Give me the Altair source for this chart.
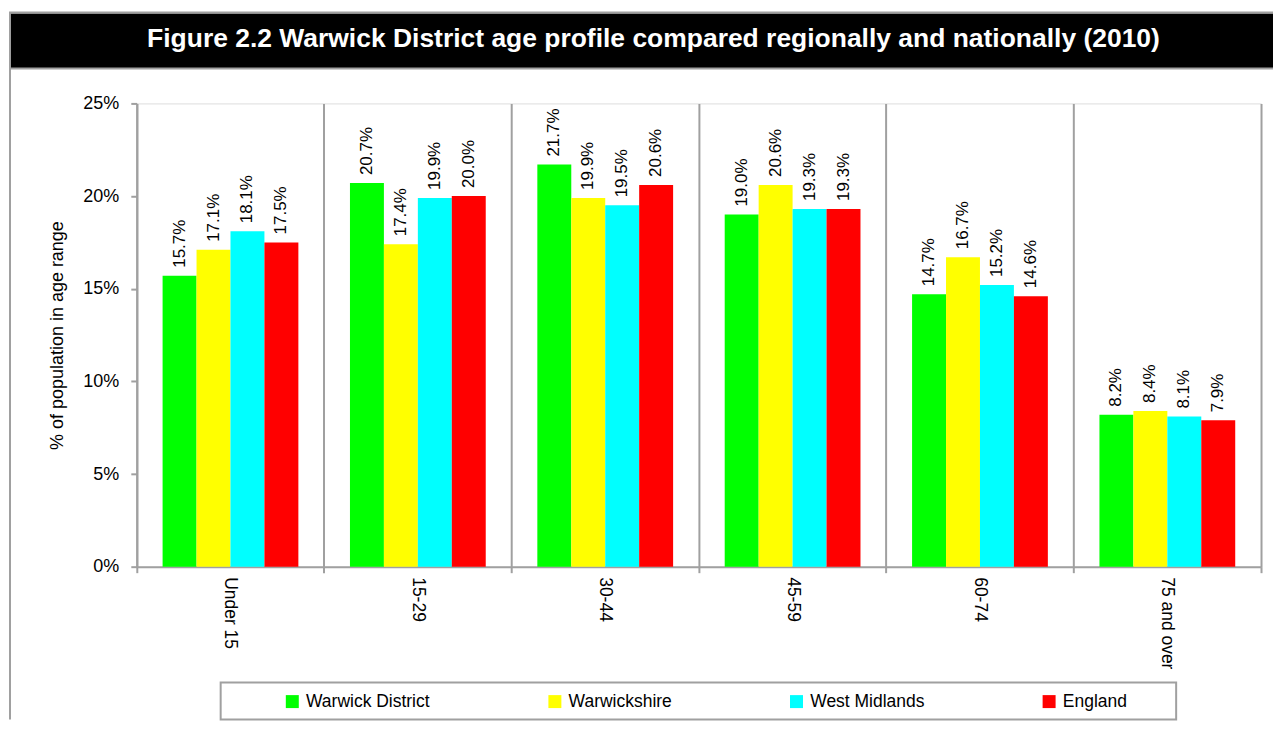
import altair as alt
import pandas as pd

TITLE = "Figure 2.2 Warwick District age profile compared regionally and nationally (2010)"
categories = ["Under 15", "15-29", "30-44", "45-59", "60-74", "75 and over"]
series = ["Warwick District", "Warwickshire", "West Midlands", "England"]
colors = ["#00FF00", "#FFFF00", "#00FFFF", "#FF0000"]
warwick_district = [15.7, 20.7, 21.7, 19.0, 14.7, 8.2]
warwickshire = [17.1, 17.4, 19.9, 20.6, 16.7, 8.4]
west_midlands = [18.1, 19.9, 19.5, 19.3, 15.2, 8.1]
england = [17.5, 20.0, 20.6, 19.3, 14.6, 7.9]
y_ticks = [0, 5, 10, 15, 20, 25]

rows = []
for s, vals in zip(series, [warwick_district, warwickshire, west_midlands, england]):
    for c, v in zip(categories, vals):
        rows.append({"age": c, "area": s, "pct": v, "label": f"{v:.1f}%"})
df = pd.DataFrame(rows)

FONT = "Liberation Sans"
GRAY = "#a0a0a0"
W, H = 1126, 464

one = alt.Data(values=[{"k": 1}])

x_enc = alt.X("age:N", sort=categories, title=None,
              scale=alt.Scale(paddingInner=0, paddingOuter=0),
              axis=alt.Axis(labelAngle=90, labelFontSize=17.5, labelFont=FONT, labelColor="black",
                            labelPadding=4, domainColor=GRAY, domainWidth=2, tickColor=GRAY,
                            tickWidth=2, tickSize=6, grid=True, gridColor=GRAY, gridWidth=2,
                            bandPosition=1, tickExtra=True))
xoff_enc = alt.XOffset("area:N", sort=series,
                       scale=alt.Scale(paddingOuter=0.76, paddingInner=0))
y_enc = alt.Y("pct:Q", scale=alt.Scale(domain=[0, 25], nice=False),
              axis=alt.Axis(values=y_ticks, labelExpr="datum.value + '%'", labelFontSize=18,
                            labelFont=FONT, labelColor="black", labelPadding=12,
                            domainColor=GRAY, domainWidth=2, tickColor=GRAY, tickWidth=2,
                            tickSize=6, grid=False, title="% of population in age range",
                            titleFont=FONT, titleFontSize=18, titleFontWeight="normal",
                            titleColor="black", titlePadding=16))

bars = alt.Chart(df).mark_bar().encode(
    x=x_enc, xOffset=xoff_enc, y=y_enc,
    color=alt.Color("area:N", sort=series,
                    scale=alt.Scale(domain=series, range=colors),
                    legend=alt.Legend(title=None, orient="none", legendX=147, legendY=590,
                                      direction="horizontal", columns=4, columnPadding=116,
                                      symbolType="square", symbolSize=169, symbolStrokeWidth=0,
                                      labelFontSize=17.5, labelFont=FONT, labelColor="black",
                                      labelOffset=5, padding=0)),
)

labels = alt.Chart(df).mark_text(angle=270, align="left", baseline="middle", dx=8,
                                 fontSize=17, font=FONT, color="black").encode(
    x=alt.X("age:N", sort=categories), xOffset=alt.XOffset("area:N", sort=series),
    y="pct:Q", text="label:N")

bar_bg = alt.Chart(one).mark_rect(color="black").encode(
    x=alt.value(-127), x2=alt.value(1138), y=alt.value(-90), y2=alt.value(-35))
top_line = alt.Chart(one).mark_rule(color=GRAY, strokeWidth=2).encode(
    x=alt.value(-128), x2=alt.value(1138), y=alt.value(-91))
bot_line = alt.Chart(one).mark_rule(color=GRAY, strokeWidth=2).encode(
    x=alt.value(-128), x2=alt.value(1138), y=alt.value(-35))
left_line = alt.Chart(one).mark_rule(color=GRAY, strokeWidth=2).encode(
    x=alt.value(-127), y=alt.value(-91), y2=alt.value(617))
title = alt.Chart(one).mark_text(text=TITLE, font=FONT, fontSize=26.5, fontWeight="bold",
                                 color="white", align="center", baseline="alphabetic").encode(
    x=alt.value(517.5), y=alt.value(-57))
legend_box = alt.Chart(one).mark_rect(fillOpacity=0, stroke=GRAY, strokeWidth=2).encode(
    x=alt.value(84), x2=alt.value(1041), y=alt.value(580), y2=alt.value(617))

chart = alt.layer(bar_bg, top_line, bot_line, left_line, title, bars, labels, legend_box).properties(
    width=W, height=H,
    padding={"left": 0, "top": 3, "right": 0, "bottom": 0},
).configure_view(stroke=None).configure(font=FONT)

chart.save("out.html", embed_options={"renderer": "svg", "actions": False})
